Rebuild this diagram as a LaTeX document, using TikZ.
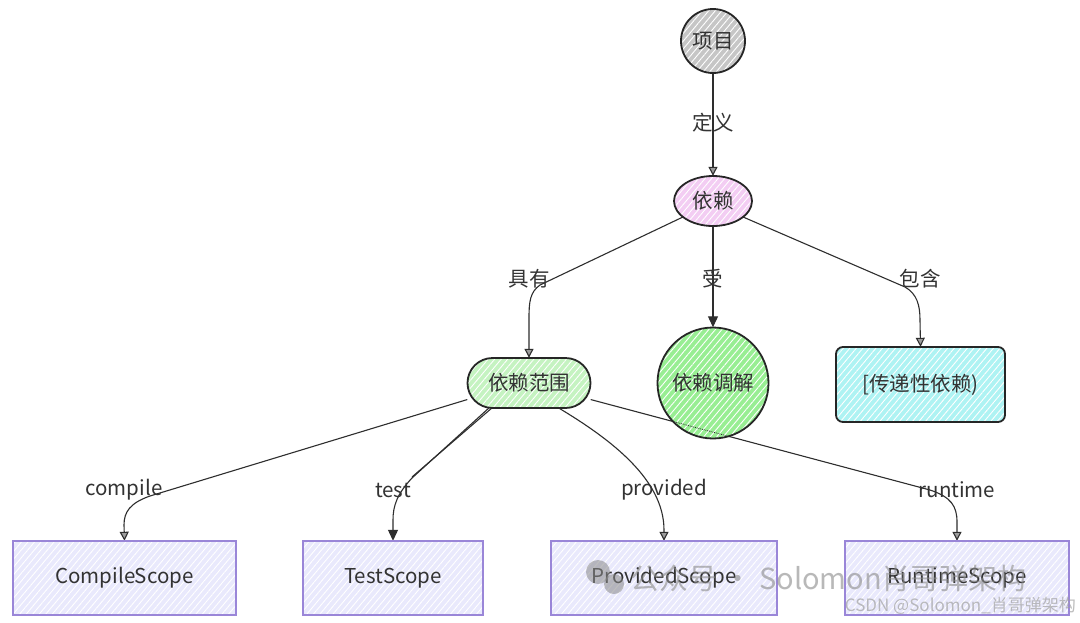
\documentclass[tikz,border=0pt]{standalone}
\usepackage{fontspec}
\setmainfont{Noto Sans CJK SC}
\usetikzlibrary{arrows.meta,shapes.geometric,patterns.meta,backgrounds}
\definecolor{ink}{HTML}{333333}
\definecolor{edge}{HTML}{2E2E2E}
\definecolor{projgray}{HTML}{C6C6C6}
\definecolor{deppink}{HTML}{F3CDF3}
\definecolor{fwgreen}{HTML}{C5F3C1}
\definecolor{medgreen}{HTML}{98EE93}
\definecolor{trcyan}{HTML}{AEF3F3}
\definecolor{scopefill}{HTML}{E9E9FC}
\definecolor{scopeline}{HTML}{9A86D8}
\definecolor{wm}{HTML}{8A8A8A}
\begin{document}
\begin{tikzpicture}[x=1pt,y=1pt,
  font=\fontsize{20.5}{24}\selectfont,
  mainnode/.style={text=ink, inner sep=0pt,
    postaction={pattern={Lines[angle=50,distance=5pt,line width=0.9pt]},pattern color=white},
    postaction={draw=black!85, line width=1.8pt}},
  scopebox/.style={fill=scopefill, text=ink, minimum height=74pt, inner sep=0pt,
    postaction={pattern={Lines[angle=50,distance=5pt,line width=0.9pt]},pattern color=white},
    postaction={draw=scopeline, line width=1.3pt}},
  lbl/.style={text=ink, inner sep=1pt},
  conn/.style={draw=edge, line width=1.1pt},
  arr/.style={conn, -{Triangle[width=9pt,length=9pt,fill=gray!70!black!60]}},
  arrf/.style={conn, -{Triangle[width=10pt,length=11pt,fill=edge]}}
]
\useasboundingbox (0,0) rectangle (1080,-622);

% nodes
\node[mainnode, circle, fill=projgray, minimum size=64pt] (proj) at (713,-41) {项目};
\node[mainnode, ellipse, fill=deppink, minimum width=78pt, minimum height=50pt] (dep) at (713,-201) {依赖};
\node[mainnode, rectangle, rounded corners=25pt, fill=fwgreen, minimum width=123pt, minimum height=50pt] (fw) at (529,-383) {依赖范围};
\node[mainnode, circle, fill=medgreen, minimum size=111pt] (med) at (713,-383) {依赖调解};
\node[mainnode, rectangle, rounded corners=7pt, fill=trcyan, minimum width=169pt, minimum height=75pt] (tr) at (920.5,-384.5) {[传递性依赖)};

\node[scopebox, minimum width=223pt] (cs) at (124.5,-578) {CompileScope};
\node[scopebox, minimum width=180pt] (ts) at (393,-578) {TestScope};
\node[scopebox, minimum width=226pt] (ps) at (664,-578) {ProvidedScope};
\node[scopebox, minimum width=224pt] (rs) at (957,-578) {RuntimeScope};

% connectors
\begin{scope}[on background layer]
\fill[white] (0,0) rectangle (1080,-622);
\draw[arr] (proj) -- (dep);
\draw[arr] (dep.208) -- (540,-285) .. controls (530,-292) and (529,-302) .. (529,-318) -- (fw.north);
\draw[arrf] (dep.south) -- (med.north);
\draw[arr] (dep.332) -- (905,-287) .. controls (917,-294) and (920,-305) .. (920,-320) -- (tr.north);
\draw[arr] (fw.195) -- (150,-496) .. controls (130,-503) and (124,-512) .. (124,-525) -- (cs.north);
\draw[arrf] (fw.212) -- (412,-478) .. controls (397,-494) and (393,-506) .. (393,-520) -- (ts.north);
\draw[conn] (fw.214) -- (412,-477);
\draw[arr] (fw.320) .. controls (612,-440) and (664,-480) .. (664,-530) -- (ps.north);
\draw[arr] (fw.345) -- (930,-490) .. controls (951,-497) and (957,-506) .. (957,-522) -- (rs.north);
\end{scope}
\begin{scope}
\clip (med.center) circle (54.5pt);
\draw[edge, line width=0.8pt, densely dotted] (fw.345) -- (930,-490);
\end{scope}

% edge labels
\node[lbl] (l1) at (713,-123) {定义};
\node[lbl] (l2) at (529,-279) {具有};
\node[lbl] (l3) at (713,-279) {受};
\node[lbl] (l4) at (920,-279) {包含};
\node[lbl] (l5) at (124,-490) {compile};
\node[lbl] (l6) at (393,-490) {test};
\node[lbl] (l7) at (664,-490) {provided};
\node[lbl] (l8) at (957,-490) {runtime};

% watermark
\fill[wm, opacity=0.55] (598,-572) circle (12pt);
\fill[wm, opacity=0.55] (614,-584) circle (10pt);
\node[text=wm, opacity=0.6, anchor=west, font=\fontsize{29}{32}\selectfont, inner sep=0pt] (wm1) at (630,-578) {公众号 · Solomon肖哥弹架构};
\node[text=wm!80, opacity=0.7, anchor=east, font=\fontsize{17}{20}\selectfont, inner sep=0pt] (wm2) at (1076,-606) {CSDN @Solomon\_肖哥弹架构};
\end{tikzpicture}
\end{document}
